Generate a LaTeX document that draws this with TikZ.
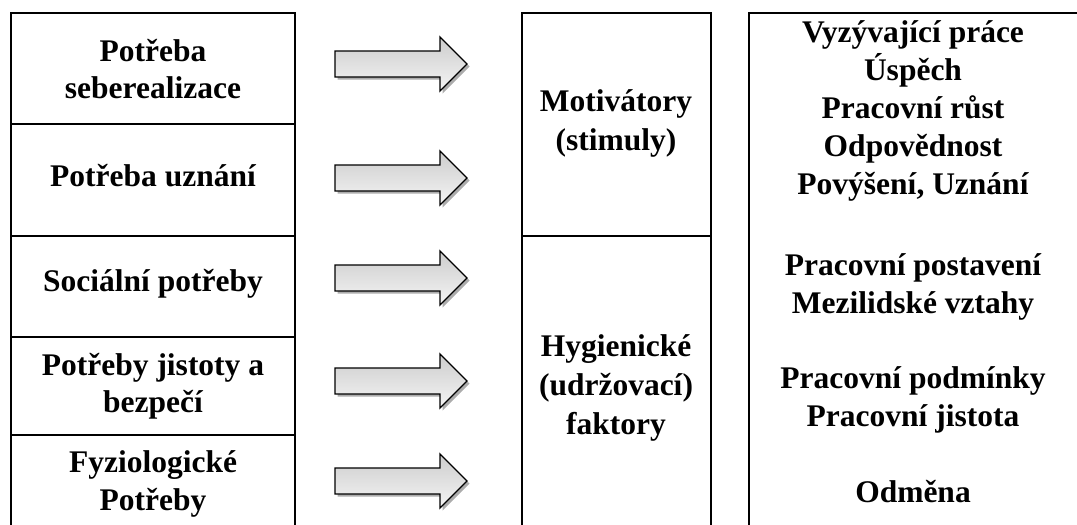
\documentclass[tikz,border=0pt]{standalone}
\usepackage{fontspec}
\setmainfont{Liberation Serif}

\begin{document}
\begin{tikzpicture}[x=1pt,y=-1pt,
    boxline/.style={draw=black, line width=1.6pt},
    celltext/.style={align=center, inner sep=0pt, font=\fontsize{31.5}{37.5}\selectfont\bfseries},
    midtext/.style={celltext, font=\fontsize{31.5}{39}\selectfont\bfseries},
    listtext/.style={celltext, font=\fontsize{31.5}{38}\selectfont\bfseries},
    arrowbody/.style={draw=black, line width=1.4pt, line join=miter, top color=gray!40, bottom color=gray!8},
    arrowshadow/.style={fill=gray!65}]

    \useasboundingbox (0,0) rectangle (1077,525);

    % left column: Maslow
    \draw[boxline] (11,530) -- (11,13) -- (295,13) -- (295,530);
    \draw[boxline] (11,124) -- (295,124);
    \draw[boxline] (11,236) -- (295,236);
    \draw[boxline] (11,337) -- (295,337);
    \draw[boxline] (11,435) -- (295,435);

    % middle column: Herzberg
    \draw[boxline] (522,530) -- (522,13) -- (711,13) -- (711,530);
    \draw[boxline] (522,236) -- (711,236);

    % right column
    \draw[boxline] (749,530) -- (749,13) -- (1080,13);

    \node[celltext] (seber) at (153,69) {Potřeba\\seberealizace};
    \node[celltext] (uznani) at (153,176) {Potřeba uznání};
    \node[celltext] (social) at (153,284) {Sociální potřeby};
    \node[celltext] (jistota) at (153,386) {Potřeby jistoty a\\bezpečí};
    \node[celltext] (fyzio) at (153,484) {Fyziologické\\Potřeby};

    % block arrows
    \foreach \y [count=\i] in {64,178,278,381,481} {
        \coordinate (arr\i) at (401,\y);
        \fill[arrowshadow, shift={(2.5,2.5)}] (335,\y-13) -- (440,\y-13) -- (440,\y-27) -- (467,\y)
            -- (440,\y+27) -- (440,\y+13) -- (335,\y+13) -- cycle;
        \draw[arrowbody] (335,\y-13) -- (440,\y-13) -- (440,\y-27) -- (467,\y)
            -- (440,\y+27) -- (440,\y+13) -- (335,\y+13) -- cycle;
    }

    \node[midtext] (motiv) at (616,123) {Motivátory\\(stimuly)};
    \node[midtext] (hygien) at (616,388) {Hygienické\\(udržovací)\\faktory};

    \node[listtext] (mot list) at (913,111) {Vyzývající práce\\Úspěch\\Pracovní růst\\Odpovědnost\\Povýšení, Uznání};
    \node[listtext] (hyg list1) at (913,287) {Pracovní postavení\\Mezilidské vztahy};
    \node[listtext] (hyg list2) at (913,400) {Pracovní podmínky\\Pracovní jistota};
    \node[listtext] (hyg list3) at (913,492) {Odměna};

\end{tikzpicture}
\end{document}
